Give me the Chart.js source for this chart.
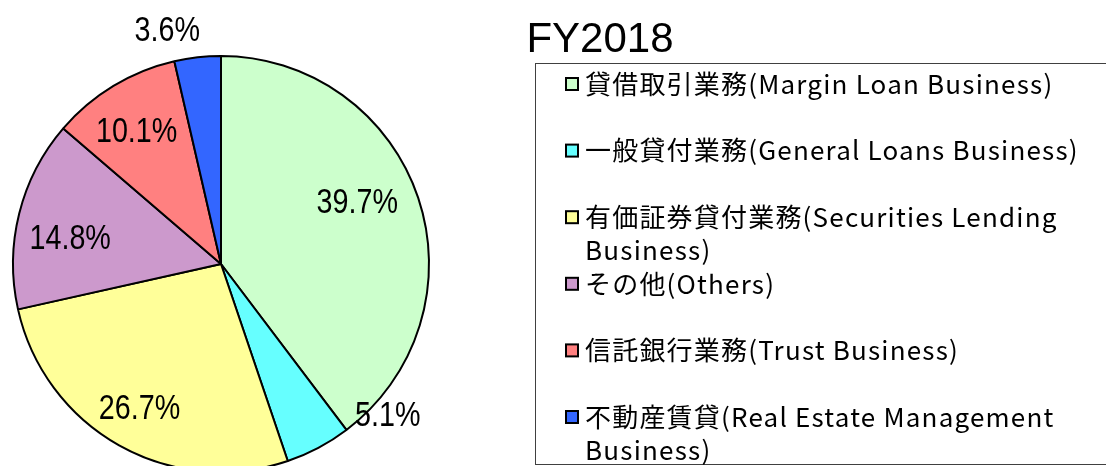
<!DOCTYPE html>
<html>
<head>
<meta charset="utf-8">
<script src="https://cdn.jsdelivr.net/npm/chart.js@4/dist/chart.umd.min.js"></script>
<style>
  html, body { margin: 0; padding: 0; background: #fff; }
  #wrap { position: relative; width: 1106px; height: 466px; overflow: hidden; }
</style>
</head>
<body>
<div id="wrap"><canvas id="chart"></canvas></div>
<script>
// data (FY2018 shares, %)
const periodLabel = 'FY2018';
const segmentLabels = [
  ['貸借取引業務(Margin Loan Business)'],
  ['一般貸付業務(General Loans Business)'],
  ['有価証券貸付業務(Securities Lending', 'Business)'],
  ['その他(Others)'],
  ['信託銀行業務(Trust Business)'],
  ['不動産賃貸(Real Estate Management', 'Business)']
];
const shareValues = [39.7, 5.1, 26.7, 14.8, 10.1, 3.6];
const sliceColors = ['#CCFFCC', '#66FFFF', '#FFFF99', '#CC99CC', '#FF8080', '#3366FF'];

// label placement tweaks (angle shift in degrees, distance as fraction of radius)
const labelShift = [-5.3, -19.6, 0, -4.6, -1.6, -6.5];
const labelDist = [0.716, 1.087, 0.80, 0.735, 0.75, 1.15];

const pctLabels = {
  id: 'pctLabels',
  afterDatasetsDraw(chart) {
    const ctx = chart.ctx;
    const meta = chart.getDatasetMeta(0);
    ctx.save();
    ctx.font = '35px "Liberation Sans", Arial, sans-serif';
    ctx.fillStyle = '#000';
    ctx.textAlign = 'center';
    ctx.textBaseline = 'middle';
    meta.data.forEach((arc, i) => {
      const p = arc.getProps(['x', 'y', 'startAngle', 'endAngle', 'outerRadius'], true);
      const mid = (p.startAngle + p.endAngle) / 2 + labelShift[i] * Math.PI / 180;
      const r = p.outerRadius * labelDist[i];
      const txt = shareValues[i].toFixed(1) + '%';
      // narrow face look: squeeze horizontally
      ctx.save();
      ctx.translate(p.x + Math.cos(mid) * r, p.y + Math.sin(mid) * r);
      ctx.scale(0.82, 1);
      ctx.fillText(txt, 0, 0);
      ctx.restore();
    });
    ctx.restore();
  }
};

const sideLegend = {
  id: 'sideLegend',
  afterDraw(chart) {
    const ctx = chart.ctx;
    ctx.save();
    // period title
    ctx.font = '42px "Liberation Sans", Arial, sans-serif';
    ctx.fillStyle = '#000';
    ctx.textAlign = 'center';
    ctx.textBaseline = 'alphabetic';
    ctx.fillText(periodLabel, 600, 52);

    // legend frame
    ctx.strokeStyle = '#404040';
    ctx.lineWidth = 1;
    ctx.strokeRect(535.5, 63.5, 620, 401);

    ctx.font = '26px "Noto Sans CJK JP", sans-serif';
    ctx.letterSpacing = '1.2px';
    ctx.textAlign = 'left';
    ctx.textBaseline = 'middle';
    segmentLabels.forEach((lines, i) => {
      const cy = 84 + i * 66.6;
      ctx.fillStyle = sliceColors[i];
      ctx.fillRect(566, cy - 6, 12, 12);
      ctx.strokeStyle = '#000';
      ctx.lineWidth = 2;
      ctx.strokeRect(566, cy - 6, 12, 12);
      ctx.fillStyle = '#000';
      lines.forEach((ln, k) => ctx.fillText(ln, 585, cy + k * 33));
    });
    ctx.restore();
  }
};

new Chart(document.getElementById('chart'), {
  type: 'pie',
  data: {
    labels: segmentLabels.map(l => l.join(' ')),
    datasets: [{
      data: shareValues,
      backgroundColor: sliceColors,
      borderColor: '#000',
      borderWidth: 2,
      clip: false
    }]
  },
  options: {
    responsive: true,
    maintainAspectRatio: false,
    animation: false,
    radius: 208,
    layout: { padding: { left: 0, right: 664, top: 62, bottom: 0 } },
    plugins: {
      legend: { display: false },
      tooltip: { enabled: false },
      title: { display: false }
    }
  },
  plugins: [pctLabels, sideLegend]
});
</script>
</body>
</html>
